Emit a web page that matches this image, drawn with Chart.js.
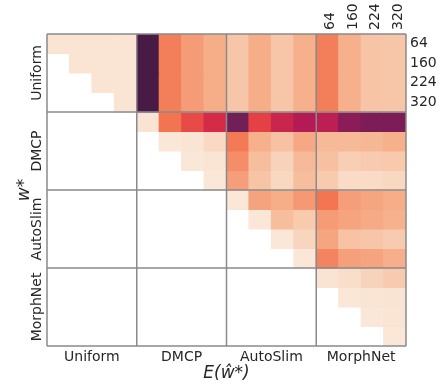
<!DOCTYPE html>
<html>
<head>
<meta charset="utf-8">
<script src="https://cdn.jsdelivr.net/npm/chart.js@4"></script>
<style>
  html, body { margin: 0; padding: 0; background: #fff; }
  #wrap { width: 441px; height: 389px; }
</style>
</head>
<body>
<div id="wrap"><canvas id="heat"></canvas></div>
<script>
const methods = ["Uniform", "DMCP", "AutoSlim", "MorphNet"];
const widths = ["64", "160", "224", "320"];

// one row per width, 16 columns (Uniform 64..320, DMCP 64..320, AutoSlim ..., MorphNet ...)
const uniformRows = [
  [0.015, 0.015, 0.015, 0.015, 0.81, 0.265, 0.198, 0.157, 0.099, 0.157, 0.099, 0.15, 0.265, 0.152, 0.101, 0.099],
  [null, 0.015, 0.015, 0.015, 0.81, 0.265, 0.198, 0.157, 0.099, 0.157, 0.099, 0.15, 0.265, 0.152, 0.101, 0.099],
  [null, null, 0.015, 0.015, 0.81, 0.265, 0.198, 0.157, 0.099, 0.157, 0.099, 0.15, 0.265, 0.152, 0.101, 0.099],
  [null, null, null, 0.015, 0.81, 0.265, 0.198, 0.157, 0.099, 0.157, 0.099, 0.15, 0.265, 0.152, 0.101, 0.099],
];
const dmcpRows = [
  [null, null, null, null, 0.02, 0.29, 0.38, 0.467, 0.714, 0.399, 0.495, 0.552, 0.53, 0.653, 0.683, 0.685],
  [null, null, null, null, null, 0.01, 0.016, 0.047, 0.277, 0.152, 0.107, 0.171, 0.127, 0.127, 0.133, 0.15],
  [null, null, null, null, null, null, 0.01, 0.016, 0.233, 0.117, 0.062, 0.127, 0.112, 0.075, 0.083, 0.088],
  [null, null, null, null, null, null, null, 0.01, 0.194, 0.101, 0.049, 0.117, 0.086, 0.042, 0.042, 0.049],
];
const autoslimRows = [
  [null, null, null, null, null, null, null, null, 0.01, 0.182, 0.157, 0.208, 0.288, 0.194, 0.178, 0.159],
  [null, null, null, null, null, null, null, null, null, 0.01, 0.117, 0.086, 0.198, 0.18, 0.166, 0.148],
  [null, null, null, null, null, null, null, null, null, null, 0.01, 0.057, 0.175, 0.104, 0.096, 0.083],
  [null, null, null, null, null, null, null, null, null, null, null, 0.01, 0.254, 0.189, 0.18, 0.155],
];
const morphnetRows = [
  [null, null, null, null, null, null, null, null, null, null, null, null, 0.02, 0.034, 0.062, 0.083],
  [null, null, null, null, null, null, null, null, null, null, null, null, null, 0.01, 0.015, 0.02],
  [null, null, null, null, null, null, null, null, null, null, null, null, null, null, 0.01, 0.015],
  [null, null, null, null, null, null, null, null, null, null, null, null, null, null, null, 0.01],
];

const rows = [...uniformRows, ...dmcpRows, ...autoslimRows, ...morphnetRows];
const columns = methods.flatMap(m => widths.map(w => m + " " + w));

// rocket_r colour map
const stops = [
  [250, 235, 221], [246, 180, 143], [243, 118, 81], [225, 51, 66],
  [173, 23, 89], [112, 31, 87], [53, 25, 62], [3, 5, 26],
];
function rocketR(v) {
  const t = Math.max(0, Math.min(1, v)) * (stops.length - 1);
  const i = Math.min(Math.floor(t), stops.length - 2);
  const f = t - i;
  const c = stops[i].map((a, k) => Math.round(a + (stops[i + 1][k] - a) * f));
  return `rgb(${c[0]},${c[1]},${c[2]})`;
}

const datasets = rows.map((row, r) => ({
  label: methods[Math.floor(r / 4)] + " " + widths[r % 4],
  data: row.map(v => (v == null ? null : [r, r + 1])),
  backgroundColor: row.map(v => (v == null ? "rgba(0,0,0,0)" : rocketR(v))),
  borderWidth: 0,
  inflateAmount: 0.5,
  grouped: false,
  barPercentage: 1,
  categoryPercentage: 1,
}));

const textColor = "#262626";
const tickFont = { family: "DejaVu Sans", size: 14 };

const fixedTicks = (vals) => (axis) => { axis.ticks = vals.map(v => ({ value: v })); };

const blockLines = {
  id: "blockLines",
  afterDatasetsDraw(chart) {
    const { ctx, scales: { y } } = chart;
    const area = chart.chartArea;
    ctx.save();
    ctx.strokeStyle = "#8a8a8a";
    ctx.lineWidth = 1.5;
    [0, 4, 8, 12, 16].forEach(v => {
      const py = y.getPixelForValue(v);
      ctx.beginPath();
      ctx.moveTo(area.left, py);
      ctx.lineTo(area.right, py);
      ctx.stroke();
      const px = area.left + (area.right - area.left) * v / 16;
      ctx.beginPath();
      ctx.moveTo(px, area.top);
      ctx.lineTo(px, area.bottom);
      ctx.stroke();
    });
    // row group names on the left, rotated
    ctx.fillStyle = textColor;
    ctx.font = "14px 'DejaVu Sans'";
    ctx.textAlign = "center";
    ctx.textBaseline = "middle";
    methods.forEach((m, i) => {
      ctx.save();
      ctx.translate(37, y.getPixelForValue(i * 4 + 2));
      ctx.rotate(-Math.PI / 2);
      ctx.fillText(m, 0, 0);
      ctx.restore();
    });
    ctx.restore();
  },
};

new Chart(document.getElementById("heat"), {
  type: "bar",
  data: { labels: columns, datasets },
  options: {
    responsive: true,
    maintainAspectRatio: false,
    animation: false,
    layout: { padding: 0 },
    plugins: { legend: { display: false }, tooltip: { enabled: false } },
    scales: {
      x: { type: "category", display: false, offset: true },
      y: {
        type: "linear", min: 0, max: 16, reverse: true, position: "left",
        ticks: { display: false },
        grid: { display: false, drawTicks: false },
        border: { display: false },
        title: {
          display: true, text: "w*", color: textColor,
          font: { family: "DejaVu Sans", size: 17, style: "italic" },
          padding: { top: 14 },
        },
        afterFit: (s) => { s.width = 47; },
      },
      yRight: {
        type: "linear", min: 0, max: 16, reverse: true, position: "right",
        afterBuildTicks: fixedTicks([0.5, 1.5, 2.5, 3.5]),
        ticks: { color: textColor, font: tickFont, padding: 4, callback: (v) => widths[Math.floor(v)] },
        grid: { display: false, drawTicks: false },
        border: { display: false },
        afterFit: (s) => { s.width = 35; },
      },
      xBottom: {
        type: "linear", min: 0, max: 16, position: "bottom", offset: false,
        afterBuildTicks: fixedTicks([2, 6, 10, 14]),
        ticks: { color: textColor, font: tickFont, padding: 3, maxRotation: 0, autoSkip: false, callback: (v) => methods[Math.floor(v / 4)] },
        grid: { display: false, drawTicks: false },
        border: { display: false },
        title: {
          display: true, text: "E(ŵ*)", color: textColor,
          font: { family: "DejaVu Sans", size: 17, style: "italic" },
          padding: { bottom: 5 },
        },
        afterFit: (s) => { s.height = 43; },
      },
      xTop: {
        type: "linear", min: 0, max: 16, position: "top", offset: false,
        afterBuildTicks: fixedTicks([12.5, 13.5, 14.5, 15.5]),
        ticks: { color: textColor, font: tickFont, padding: 4, labelOffset: 20, minRotation: 90, maxRotation: 90, autoSkip: false, callback: (v) => widths[Math.floor(v - 12)] },
        grid: { display: false, drawTicks: false },
        border: { display: false },
        afterFit: (s) => { s.height = 34; },
      },
    },
  },
  plugins: [blockLines],
});
</script>
</body>
</html>
